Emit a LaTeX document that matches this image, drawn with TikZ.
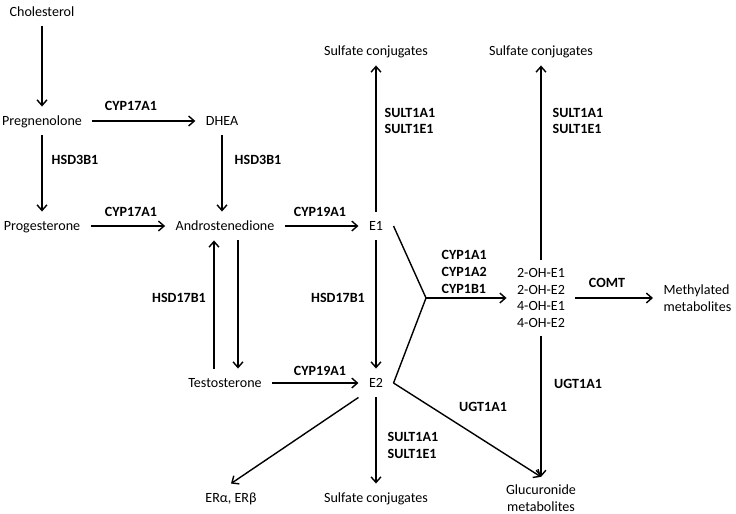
\documentclass[tikz,border=0pt]{standalone}
\usepackage{fontspec}
\setmainfont{Carlito}
\usetikzlibrary{arrows.meta}

\begin{document}
\begin{tikzpicture}[x=0.025cm, y=-0.025cm, line width=1pt,
	>={Straight Barb[length=4pt,width=7pt]},
	mol/.style={inner xsep=7pt, inner ysep=5pt, text height=1.6ex, text depth=0.4ex},
	group/.style={inner xsep=7pt, inner ysep=5pt, align=center},
	enz/.style={font=\bfseries, inner sep=0pt, align=left}]
	\useasboundingbox (0,0) rectangle (736,513);
	% steroids
	\node[mol] (chol) at (42,12) {Cholesterol};
	\node[mol] (preg) at (42,121) {Pregnenolone};
	\node[mol] (dhea) at (222,121) {DHEA};
	\node[mol] (prog) at (42,226) {Progesterone};
	\node[mol] (andro) at (225,226) {Androstenedione};
	\node[mol] (testo) at (225,383) {Testosterone};
	\node[mol] (e1) at (376,226) {E1};
	\node[mol] (e2) at (376,383) {E2};
	% products
	\node[mol] (sulfA) at (376,51) {Sulfate conjugates};
	\node[mol] (sulfB) at (541,51) {Sulfate conjugates};
	\node[mol] (sulfC) at (376,498) {Sulfate conjugates};
	\node[mol] (er) at (231,498) {ERα, ERβ};
	\node[group] (oh) at (541,298) {2-OH-E1\\2-OH-E2\\4-OH-E1\\4-OH-E2};
	\node[group, align=left, anchor=west] (meth) at (653,298) {Methylated\\metabolites};
	\node[group] (gluc) at (541,498) {Glucuronide\\metabolites};
	\coordinate (fork) at (426,298);
	% enzymes
	\node[enz] (cypA) at (131,106) {CYP17A1};
	\node[enz] (cypB) at (131,212) {CYP17A1};
	\node[enz] (hsdA) at (75,160) {HSD3B1};
	\node[enz] (hsdB) at (258,160) {HSD3B1};
	\node[enz] (cypC) at (320,212) {CYP19A1};
	\node[enz] (cypD) at (320,371) {CYP19A1};
	\node[enz] (hsdC) at (179,298) {HSD17B1};
	\node[enz] (hsdD) at (338,298) {HSD17B1};
	\node[enz, anchor=west] (sultA) at (384,121) {SULT1A1\\SULT1E1};
	\node[enz, anchor=west] (sultB) at (552,121) {SULT1A1\\SULT1E1};
	\node[enz, anchor=west] (sultC) at (387,445) {SULT1A1\\SULT1E1};
	\node[enz, anchor=west] (cypE) at (441,272) {CYP1A1\\CYP1A2\\CYP1B1};
	\node[enz] (comt) at (607,283) {COMT};
	\node[enz] (ugtA) at (483,407) {UGT1A1};
	\node[enz] (ugtB) at (578,384) {UGT1A1};
	% reactions
	\draw[->] (chol) -- (preg);
	\draw[->] (preg) -- (dhea);
	\draw[->] (preg) -- (prog);
	\draw[->] (dhea.south) -- (dhea.south |- andro.north);
	\draw[->] (prog) -- (andro);
	\draw[->] (andro) -- (e1);
	\draw[->] ([xshift=-0.275cm]testo.north) -- ([xshift=-0.275cm]andro.south);
	\draw[->] ([xshift=0.325cm]andro.south) -- ([xshift=0.325cm]testo.north);
	\draw[->] (testo) -- (e2);
	\draw[->] (e1) -- (sulfA);
	\draw[->] (e1) -- (e2);
	\draw[->] (e2) -- (sulfC);
	\draw[->] (e2.south west) -- (er.north);
	\draw[->] (e2.east) -- (gluc.north);
	\draw (e1.east) -- (fork) -- (e2.east);
	\draw[->] (fork) -- (oh);
	\draw[->] (oh) -- (meth);
	\draw[->] (oh) -- (sulfB);
	\draw[->] (oh) -- (gluc);
\end{tikzpicture}
\end{document}
